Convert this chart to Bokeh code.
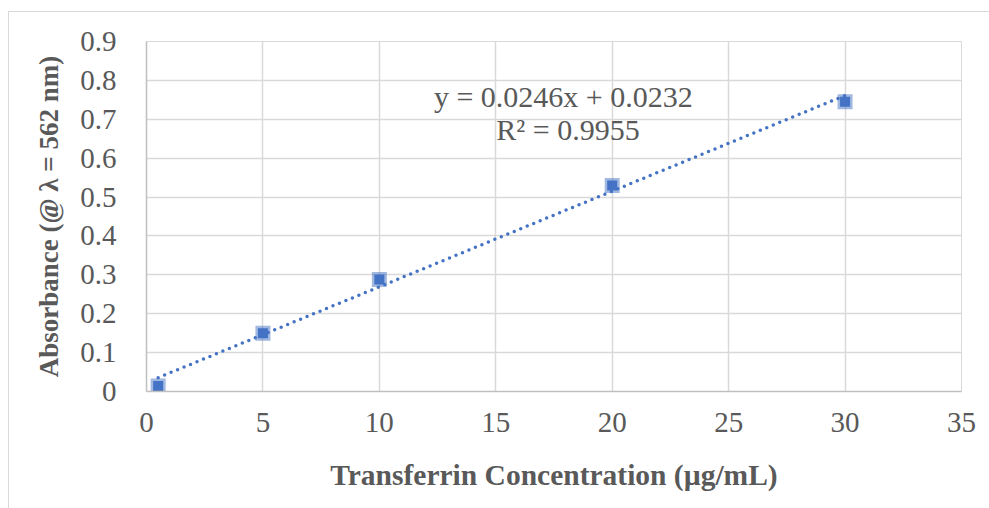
from bokeh.plotting import figure
from bokeh.models import FixedTicker, Range1d
from bokeh.embed import file_html
from bokeh.resources import INLINE
from bokeh.core.properties import value

# data
conc = [0.5, 5, 10, 20, 30]
absorbance = [0.014, 0.150, 0.288, 0.530, 0.745]
trend_x = [0.5, 30]
trend_y = [0.0355, 0.7612]
x_ticks = [0, 5, 10, 15, 20, 25, 30, 35]
y_ticks = [0, 0.1, 0.2, 0.3, 0.4, 0.5, 0.6, 0.7, 0.8, 0.9]
y_tick_labels = ["0", "0.1", "0.2", "0.3", "0.4", "0.5", "0.6", "0.7", "0.8", "0.9"]
eq_text = ["y = 0.0246x + 0.0232"]
r2_text = ["R² = 0.9955"]

FONT = "Liberation Serif"
GRAY = "#595959"
BLUE = "#4472C4"

p = figure(width=981, height=497, output_backend="svg", toolbar_location=None,
           x_range=Range1d(0, 35), y_range=Range1d(0, 0.9),
           min_border_left=137, min_border_right=29, min_border_top=29, min_border_bottom=118)
p.styles = {"border-left": "1px solid #d9d9d9", "border-top": "1px solid #d9d9d9",
            "margin-left": "8px", "margin-top": "11px"}
p.outline_line_color = "#d9d9d9"
p.background_fill_color = "white"
p.border_fill_color = "white"

p.xaxis.ticker = FixedTicker(ticks=x_ticks)
p.yaxis.ticker = FixedTicker(ticks=y_ticks)
p.yaxis.major_label_overrides = {t: l for t, l in zip(y_ticks, y_tick_labels)}

for ax in (p.xaxis, p.yaxis):
    ax.axis_line_color = "#bfbfbf"
    ax.axis_line_width = 1.5
    ax.major_tick_line_color = None
    ax.minor_tick_line_color = None
    ax.major_label_text_font = FONT
    ax.major_label_text_font_size = "29px"
    ax.major_label_text_color = GRAY
    ax.axis_label_text_font = FONT
    ax.axis_label_text_font_style = "bold"
    ax.axis_label_text_color = GRAY

p.xaxis.major_label_standoff = 15
p.yaxis.major_label_standoff = 24
p.xaxis.axis_label = "Transferrin Concentration (µg/mL)"
p.yaxis.axis_label = "Absorbance (@ λ = 562 nm)"
p.xaxis.axis_label_text_font_size = "29.5px"
p.yaxis.axis_label_text_font_size = "27px"
p.xaxis.axis_label_standoff = 24
p.yaxis.axis_label_standoff = 13

p.xgrid.grid_line_color = "#d9d9d9"
p.ygrid.grid_line_color = "#d9d9d9"
p.xgrid.grid_line_width = 1.5
p.ygrid.grid_line_width = 1.5

p.line(trend_x, trend_y, line_color=BLUE, line_width=3.5, line_dash="0 7", line_cap="round")
p.scatter(conc, absorbance, marker="square", size=15, fill_color=BLUE, fill_alpha=0.5, line_color=None)
p.scatter(conc, absorbance, marker="square", size=10, fill_color=BLUE, line_color=None)

p.text(x=[17.9], y=[0.758], text=eq_text, text_font=value(FONT), text_font_size="30px",
       text_color=GRAY, text_align="center", text_baseline="alphabetic")
p.text(x=[18.1], y=[0.675], text=r2_text, text_font=value(FONT), text_font_size="30px",
       text_color=GRAY, text_align="center", text_baseline="alphabetic")

open("out.html", "w").write(file_html(p, INLINE))
